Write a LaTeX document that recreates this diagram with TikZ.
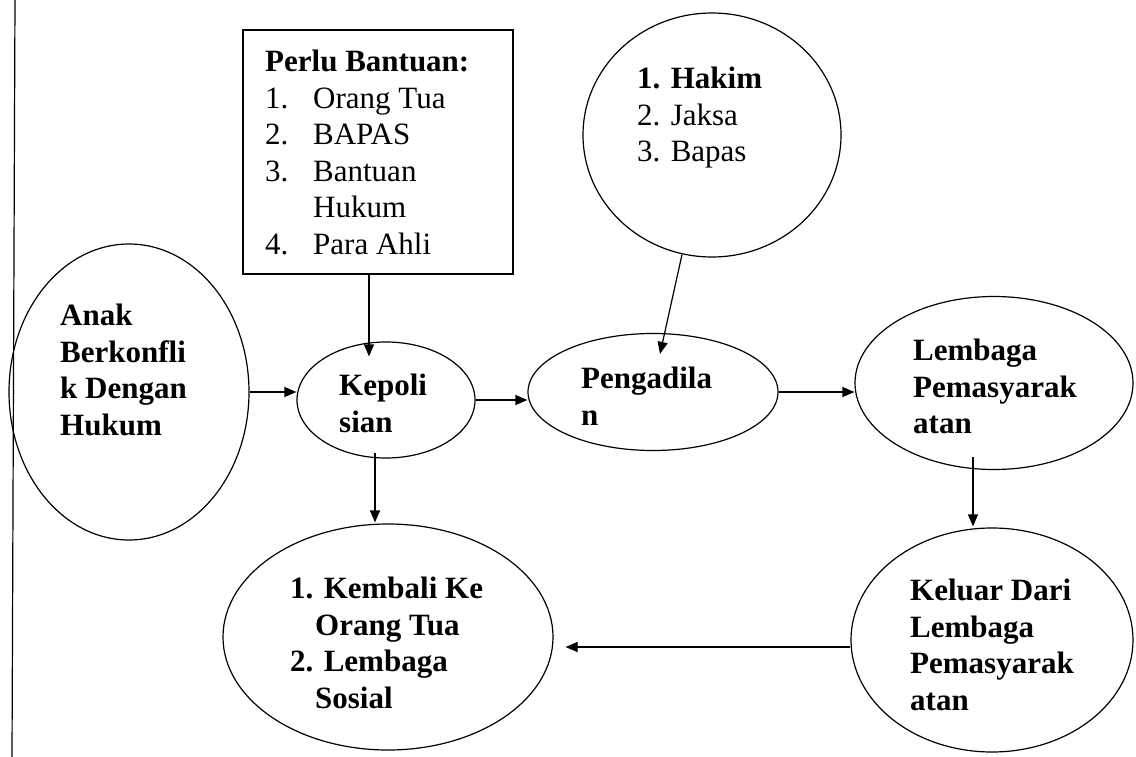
\documentclass[tikz,border=0pt]{standalone}
\usepackage{fontspec}
\setmainfont{Liberation Serif}
\usetikzlibrary{shapes.geometric,arrows.meta}
\begin{document}
\begin{tikzpicture}[x=1pt,y=-1pt,
  conn/.style={line width=1.2pt,-{Triangle[length=12pt,width=10pt]}},
  oval/.style={draw,ellipse,line width=1.2pt,inner sep=0pt},
  txt/.style={anchor=north west,inner sep=0pt,align=left,font=\fontsize{31}{36.5}\selectfont},
  btxt/.style={anchor=north west,inner sep=0pt,align=left,font=\fontsize{31}{36.5}\selectfont\bfseries}]
\useasboundingbox (0,0) rectangle (1136,757);
\fill[white] (0,0) rectangle (1136,757);
% left margin line
\draw[line width=1.2pt] (15,0) -- (12,757);

% shapes
\node[oval,minimum width=240pt,minimum height=296pt] (anak) at (129,392) {};
\node[draw,line width=1.2pt,minimum width=270pt,minimum height=244pt,inner sep=0pt] (box) at (378,152) {};
\node[oval,minimum width=258pt,minimum height=244pt] (hakim) at (712,135) {};
\node[oval,minimum width=178pt,minimum height=116pt] (kep) at (386,400) {};
\node[oval,minimum width=250pt,minimum height=117pt] (pen) at (653,392) {};
\node[oval,minimum width=278pt,minimum height=173pt] (lem) at (994,383) {};
\node[oval,minimum width=282pt,minimum height=224pt] (kel) at (992,640) {};
\node[oval,minimum width=330pt,minimum height=226pt] (kem) at (388,637) {};

% texts
\node[btxt] (tanak) at (60,300) {\strut Anak\\Berkonfli\\k Dengan\\Hukum};
\node[txt] (tbox) at (265,46) {\strut\textbf{Perlu Bantuan:}\\
  \makebox[48pt][l]{1.}Orang Tua\\
  \makebox[48pt][l]{2.}BAPAS\\
  \makebox[48pt][l]{3.}Bantuan\\
  \hspace*{48pt}Hukum\\
  \makebox[48pt][l]{4.}Para Ahli};
\node[txt] (thakim) at (637,63) {\strut\textbf{1. Hakim}\\2. Jaksa\\3. Bapas};
\node[btxt] (tkep) at (339,370) {\strut Kepoli\\sian};
\node[btxt] (tpen) at (581,363) {\strut Pengadila\\n};
\node[btxt] (tlem) at (913,335) {\strut Lembaga\\Pemasyarak\\atan};
\node[btxt] (tkel) at (910,575) {\strut Keluar Dari\\Lembaga\\Pemasyarak\\atan};
\node[btxt] (tkem) at (290,573) {\strut 1. Kembali Ke\\\hspace*{25pt}Orang Tua\\2. Lembaga\\\hspace*{25pt}Sosial};

% connectors
\draw[conn] (anak.east) -- (anak.east -| kep.west);
\draw[conn] (kep.east) -- (kep.east -| pen.west);
\draw[conn] (pen.east) -- (pen.east -| lem.west);
\draw[conn] ([xshift=-9pt]box.south) -- ([xshift=-17pt,yshift=-15pt]kep.north);
\draw[conn] ([xshift=-30pt,yshift=3pt]hakim.south) -- ([xshift=7pt,yshift=-21pt]pen.north);
\draw[conn] ([xshift=-11pt,yshift=6pt]kep.south) -- ([xshift=-13pt,yshift=1pt]kem.north);
\draw[conn] ([xshift=-21pt,yshift=13pt]lem.south) -- ([xshift=-19pt,yshift=1pt]kel.north);
\draw[conn] ([yshift=-7pt]kel.west) -- ([xshift=12pt,yshift=-10pt]kem.east);
\end{tikzpicture}
\end{document}
